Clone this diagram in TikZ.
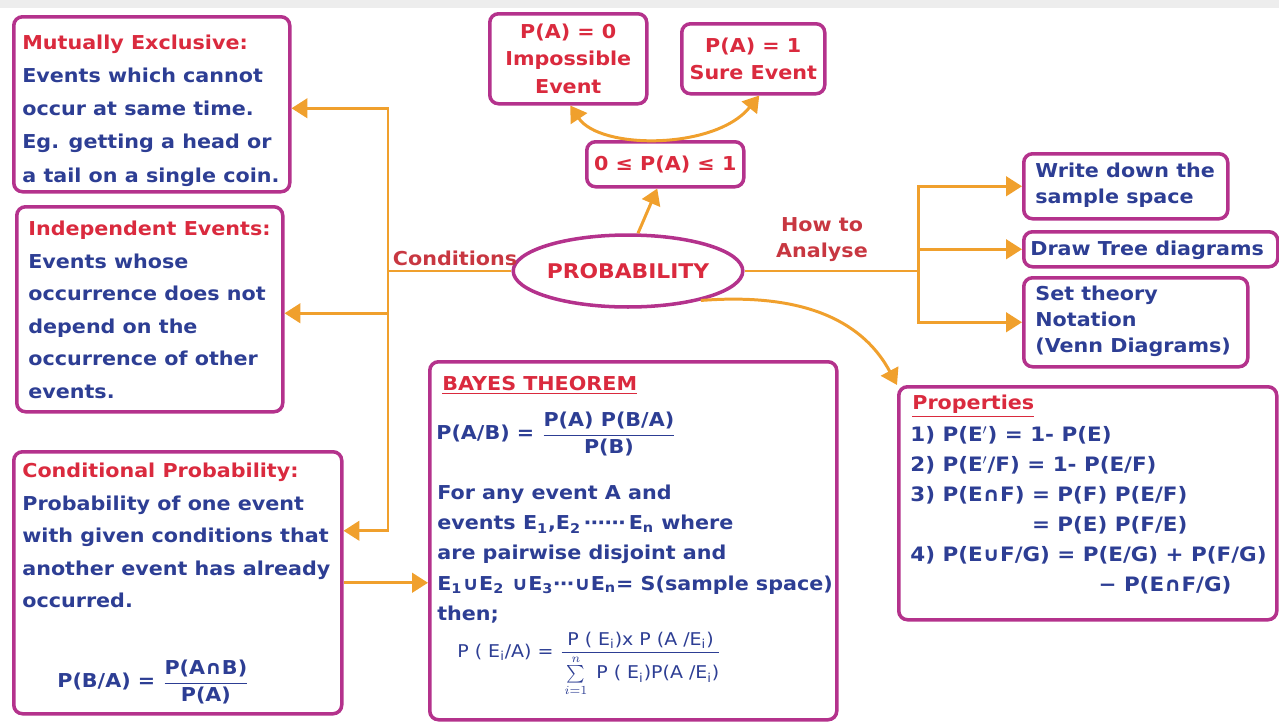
\documentclass[tikz,border=0pt]{standalone}
\usepackage{fontspec}
\setmainfont{DejaVu Sans}[FakeStretch=1.08]
\usepackage{amsmath}
\usetikzlibrary{arrows.meta,shapes.geometric}
\definecolor{bord}{RGB}{180,50,140}
\definecolor{ttl}{RGB}{218,42,62}
\definecolor{bdy}{RGB}{45,62,148}
\definecolor{org}{RGB}{240,160,45}
\definecolor{lblc}{RGB}{200,55,65}
\newcommand\tb[1]{\textcolor{ttl}{#1}}
\newcommand\fs[2]{\fontsize{#1}{#2}\selectfont\bfseries}
\newcommand\sbs[1]{$_{\text{#1}}$}
\begin{document}
\begin{tikzpicture}[x=0.02cm,y=-0.02cm,
 box/.style={draw=bord,line width=2pt,rounded corners=5pt,fill=white,inner sep=0pt,anchor=north west},
 sz/.style 2 args={minimum width=#1*0.02cm,minimum height=#2*0.02cm},
 txt/.style={anchor=north west,inner sep=0pt,align=left,text=bdy},
 ctr/.style={inner sep=0pt,align=center,text=ttl},
 lbl/.style={inner sep=0pt,align=center,text=lblc,font=\fs{10.9}{14.8}},
 arr/.style={draw=org,line width=1.7pt,-{Triangle[length=9pt,width=11pt]}},
 arrb/.style={draw=org,line width=1.7pt,{Triangle[length=9pt,width=11pt]}-{Triangle[length=9pt,width=11pt]}},
 ln/.style={draw=org,line width=1.7pt}]
\useasboundingbox (0,0) rectangle (1279,724);
\fill[black!7] (0,0) rectangle (1279,8);
% boxes
\node[box,sz={276}{175}] (me) at (12,15) {};
\node[box,sz={266}{205}] (ie) at (15,205) {};
\node[box,sz={328}{262}] (cp) at (12,450) {};
\node[box,sz={157}{90}] (imp) at (488,12) {};
\node[box,sz={143}{70}] (sure) at (680,22) {};
\node[box,sz={157}{45}] (range) at (585,140) {};
\node[box,sz={204}{65}] (wd) at (1022,152) {};
\node[box,sz={254}{35}] (dt) at (1022,230) {};
\node[box,sz={224}{89}] (st) at (1022,276) {};
\node[box,sz={407}{358}] (bayes) at (428,360) {};
\node[box,sz={378}{233}] (props) at (897,385) {};
\node[draw=bord,line width=2pt,ellipse,fill=white,minimum width=4.3cm,minimum height=1.44cm,inner sep=0pt,text=ttl,font=\fs{11.5}{14}] (prob) at (628,271) {PROBABILITY};
% texts
\node[txt,font=\fs{10.9}{18.8}] (meT) at (22,35) {\tb{Mutually Exclusive:}\\Events which cannot\\occur at same time.\\Eg. getting a head or\\a tail on a single coin.};
\node[txt,font=\fs{10.9}{18.5}] (ieT) at (28,221) {\tb{Independent Events:}\\Events whose\\occurrence does not\\depend on the\\occurrence of other\\events.};
\node[txt,font=\fs{10.9}{18.5}] (cpT) at (22,463) {\tb{Conditional Probability:}\\Probability of one event\\with given conditions that\\another event has already\\occurred.};
\node[anchor=west,text=bdy,inner sep=0pt,font=\fs{10.9}{14}] (cpF) at (57,682) {P(B/A) = $\dfrac{\text{P(A∩B)}}{\text{P(A)}}$};
\node[ctr,font=\fs{10.9}{15.6}] (impT) at (imp.center) {P(A) = 0\\Impossible\\Event};
\node[ctr,font=\fs{10.9}{15.6}] (sureT) at (sure.center) {P(A) = 1\\Sure Event};
\node[ctr,font=\fs{10.9}{15.6}] (rangeT) at (range.center) {0 ≤ P(A) ≤ 1};
\node[txt,font=\fs{10.9}{14.8}] (wdT) at (1035,163) {Write down the\\sample space};
\node[txt,font=\fs{10.9}{14.8}] (dtT) at (1030,241) {Draw Tree diagrams};
\node[txt,font=\fs{10.9}{14.8}] (stT) at (1035,286) {Set theory\\Notation\\(Venn Diagrams)};
\node[txt,text=ttl,font=\fs{10.9}{14}] (bT) at (442,376) {\underline{BAYES THEOREM}};
\node[anchor=west,inner sep=0pt,text=bdy,font=\fs{10.9}{14}] (bF1) at (436,434) {P(A/B) = $\dfrac{\text{P(A) P(B/A)}}{\text{P(B)}}$};
\node[txt,font=\fs{10.9}{17.1}] (bB) at (437,485) {For any event A and\\events E\sbs{1},E\sbs{2}\,⋯⋯\,E\sbs{n} where\\are pairwise disjoint and\\E\sbs{1}∪E\sbs{2} ∪E\sbs{3}⋯∪E\sbs{n}= S(sample space)\\then;};
\node[anchor=west,inner sep=0pt,text=bdy,font=\fontsize{10}{12}\selectfont] (bF2) at (457,664) {P ( E\sbs{i}/A) = $\dfrac{\text{P ( E\sbs{i})x P (A /E\sbs{i})}}{\rule{0pt}{13pt}\sum\limits_{i=1}^{n}\text{ P ( E\sbs{i})P(A /E\sbs{i})}}$};
\node[txt,text=ttl,font=\fs{10.9}{14}] (pT) at (912,395) {\underline{Properties}};
\node[txt,font=\fs{11.3}{17.1}] (pB) at (910,426) {1) P(E$'$) = 1- P(E)\\2) P(E$'$/F) = 1- P(E/F)\\3) P(E∩F) = P(F) P(E/F)\\\phantom{3) P(E∩F) }= P(E) P(F/E)\\4) P(E∪F/G) = P(E/G) + P(F/G)\\\phantom{4) P(E∪F/G) = P}− P(E∩F/G)};
\node[lbl] (condL) at (455,258) {Conditions};
\node[lbl] (howL) at (822,240) {How to\\Analyse};
% connectors
\coordinate (cl) at (388,271);
\coordinate (cr) at (918,271);
\draw[ln] (prob.west) -- (cl);
\draw[arr] ([yshift=-0.08cm]cl) |- ([yshift=-0.08cm]me.east);
\draw[arr] (cl) |- ([yshift=-0.08cm]ie.east);
\draw[arr] (cl) |- ([yshift=1.04cm]cp.east);
\draw[arr] (cp.east) -- (cp.east -| bayes.west);
\draw[ln] (prob.east) -- (cr);
\draw[arr] (cr) |- (wd.west);
\draw[arr] (cr) |- (dt.west);
\draw[arr] (cr) |- (st.west);
\draw[arr] ([xshift=0.2cm]prob.north) -- ([xshift=-0.16cm]range.south);
\draw[arrb] ([xshift=0.04cm]imp.south) .. controls (600,150) and (715,150) .. ([xshift=0.12cm]sure.south);
\draw[arr] (prob.-22) .. controls (810,292) and (865,325) .. (props.north west);
\end{tikzpicture}
\end{document}
